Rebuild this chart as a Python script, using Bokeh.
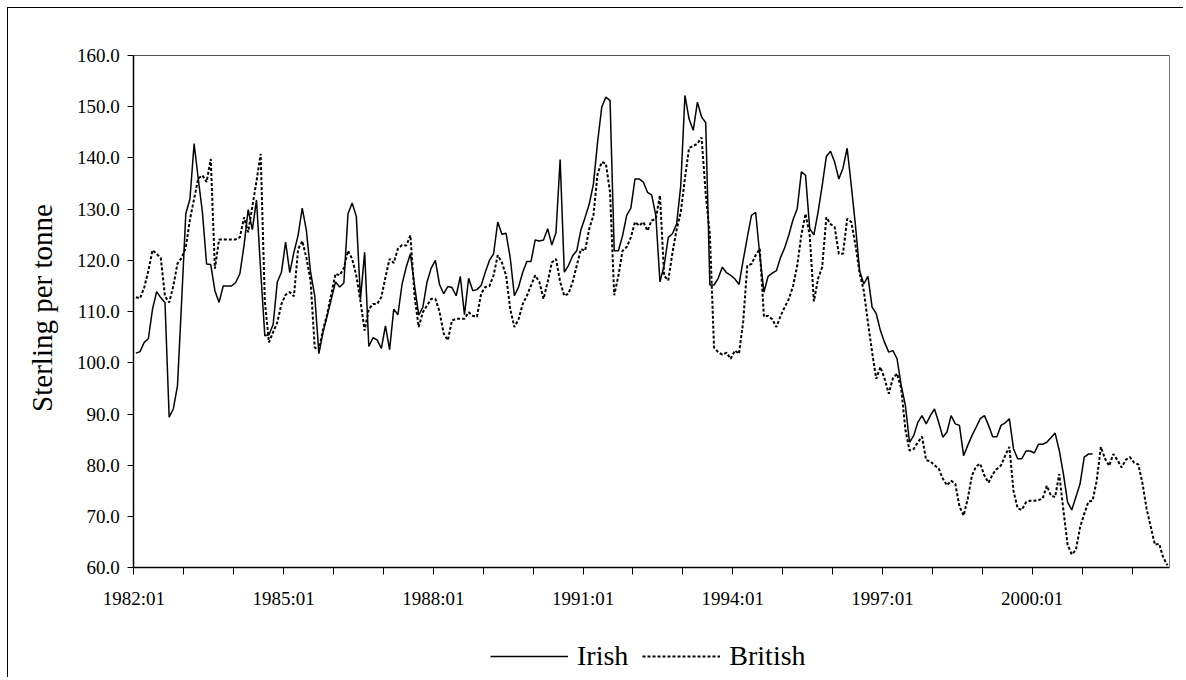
from bokeh.plotting import figure
from bokeh.models import (FixedTicker, NumeralTickFormatter, Legend, LegendItem,
                          Range1d, LinearAxis, Label)
from bokeh.embed import file_html
from bokeh.resources import INLINE

# ---- data (monthly, first month 1982:01) ----
tick_labels = ["1982:01", "1985:01", "1988:01", "1991:01", "1994:01", "1997:01", "2000:01"]
y_ticks = [60, 70, 80, 90, 100, 110, 120, 130, 140, 150, 160]

irish = [
    101.9, 102.2, 104.0, 104.7, 110.5, 113.9, 112.7, 111.8, 89.4, 91.0,
    95.5, 112.0, 129.1, 132.0, 142.8, 135.9, 129.4, 119.3, 119.2, 114.1,
    111.8, 115.0, 115.0, 115.0, 115.7, 117.4, 122.9, 129.9, 126.0, 131.8,
    118.0, 105.3, 105.5, 107.5, 115.8, 117.7, 123.6, 117.6, 121.6, 124.9,
    130.2, 125.8, 117.7, 113.1, 101.8, 106.0, 109.2, 112.5, 115.8, 114.8,
    115.6, 129.1, 131.2, 128.6, 112.5, 121.6, 103.2, 104.9, 104.5, 102.8,
    107.2, 102.6, 110.5, 109.4, 115.4, 118.7, 121.3, 115.1, 109.3, 110.9,
    115.8, 118.5, 120.0, 115.3, 113.5, 114.9, 114.7, 113.1, 116.9, 109.4,
    116.5, 114.1, 114.3, 115.1, 117.7, 120.0, 121.3, 127.5, 125.1, 125.3,
    120.5, 113.1, 114.8, 117.7, 119.8, 119.8, 124.0, 123.8, 124.0, 126.2,
    123.0, 125.4, 139.7, 117.7, 119.0, 120.9, 121.9, 126.0, 128.4, 131.0,
    134.9, 143.1, 149.9, 151.9, 151.2, 121.9, 121.9, 124.8, 128.8, 130.2,
    135.9, 135.9, 135.3, 133.3, 132.8, 128.8, 115.8, 119.0, 124.5, 125.2,
    127.1, 134.6, 152.2, 147.6, 145.4, 150.9, 148.0, 146.9, 115.2, 115.2,
    116.5, 118.7, 117.6, 117.1, 116.4, 115.3, 120.0, 124.5, 128.8, 129.4,
    121.0, 113.8, 116.9, 117.5, 118.0, 120.6, 122.5, 125.0, 128.0, 130.1,
    137.3, 136.6, 126.2, 125.0, 129.4, 134.6, 140.3, 141.3, 139.2, 135.9,
    138.0, 141.9, 134.6, 126.8, 118.0, 115.4, 116.9, 110.9, 109.6, 106.3,
    104.0, 102.1, 102.4, 100.8, 95.6, 91.7, 84.5, 85.8, 88.4, 89.7,
    88.1, 89.7, 91.0, 88.4, 85.5, 86.5, 89.7, 88.1, 87.8, 81.9,
    83.9, 85.8, 87.4, 89.1, 89.7, 87.8, 85.6, 85.6, 87.8, 88.3,
    89.1, 83.2, 81.3, 81.3, 82.8, 82.8, 82.4, 84.1, 84.1, 84.5,
    85.4, 86.3, 82.9, 78.3, 72.8, 71.3, 73.8, 76.4, 81.6, 82.2,
    82.2,
]

british = [
    112.8, 112.6, 114.7, 118.0, 122.0, 121.3, 120.4, 113.0, 111.8, 115.0,
    119.4, 120.5, 122.5, 128.0, 132.0, 136.0, 136.6, 135.3, 139.8, 118.4,
    124.1, 124.1, 124.1, 124.1, 124.1, 124.5, 128.4, 125.5, 130.5, 135.5,
    140.8, 112.0, 104.0, 106.0, 107.9, 111.5, 113.3, 113.8, 113.0, 122.2,
    123.8, 120.5, 116.0, 103.0, 102.5, 106.5, 109.5, 113.5, 117.4, 117.1,
    118.5, 121.9, 120.3, 117.0, 112.0, 106.3, 110.5, 111.5, 111.5, 112.8,
    116.7, 120.3, 119.5, 122.3, 123.0, 122.9, 124.9, 113.0, 107.0, 109.9,
    111.2, 112.5, 112.5, 110.0, 105.7, 104.4, 108.3, 108.6, 108.6, 108.6,
    109.9, 109.2, 109.0, 113.5, 114.8, 115.0, 117.1, 121.0, 119.6, 117.1,
    110.5, 107.0, 108.5, 111.5, 113.1, 115.1, 117.1, 115.8, 112.5, 115.8,
    119.6, 120.3, 115.8, 113.1, 113.5, 115.8, 119.0, 122.2, 121.9, 126.2,
    128.8, 136.9, 139.2, 138.9, 133.3, 113.2, 117.0, 121.9, 122.6, 124.5,
    127.5, 126.8, 127.5, 125.8, 127.8, 128.1, 132.7, 117.0, 116.1, 121.5,
    126.0, 129.4, 136.0, 142.0, 142.3, 142.8, 144.0, 133.0, 125.0, 103.0,
    102.1, 101.6, 102.0, 100.8, 102.4, 101.8, 108.0, 119.0, 119.3, 121.0,
    122.3, 109.0, 109.2, 108.5, 107.0, 109.2, 110.9, 112.5, 115.0, 119.0,
    125.0, 129.1, 124.9, 112.0, 116.4, 118.7, 128.4, 127.1, 126.5, 121.3,
    121.3, 128.1, 127.5, 123.0, 117.5, 114.1, 107.9, 102.1, 96.9, 99.2,
    96.9, 94.0, 97.0, 97.9, 95.0, 87.0, 82.9, 83.2, 84.5, 85.6,
    81.0, 80.8, 80.0, 79.4, 77.4, 76.1, 77.0, 76.4, 72.0, 70.2,
    73.5, 78.0, 79.8, 80.3, 78.0, 76.6, 78.3, 79.3, 80.0, 81.9,
    83.6, 75.0, 71.6, 71.3, 72.8, 73.1, 73.1, 73.2, 73.5, 76.0,
    74.1, 73.8, 78.3, 71.2, 64.5, 62.6, 63.5, 67.9, 70.5, 72.9,
    73.1, 77.0, 83.6, 81.3, 79.9, 82.2, 81.0, 79.6, 81.1, 81.6,
    80.5, 80.2, 76.5, 71.5, 68.0, 64.5, 64.7, 62.0, 60.5,
]

n_months = len(british)
x_irish = [i + 0.5 for i in range(len(irish))]
x_british = [i + 0.5 for i in range(len(british))]
y_min, y_max = y_ticks[0], y_ticks[-1]

FONT = "Liberation Serif"

# ---- layout (page pixels) ----
W, H = 1176, 670              # canvas size
CX0, CY0 = 8, 8               # canvas origin on the page
PL, PR, PT, PB = 133.3, 1169.0, 55.0, 567.3   # plot-area edges
sx = (PR - PL) / n_months
sy = (PB - PT) / (y_max - y_min)
x_lo = 0 - (PL - CX0) / sx
x_hi = n_months + (CX0 + W - PR) / sx
y_hi = y_max + (PT - CY0) / sy
y_lo = y_min - (CY0 + H - PB) / sy

p = figure(width=W, height=H, output_backend="svg", toolbar_location=None,
           x_range=Range1d(x_lo, x_hi), y_range=Range1d(y_lo, y_hi),
           x_axis_location=None, y_axis_location=None,
           min_border_left=0, min_border_right=0, min_border_top=0,
           min_border_bottom=0, background_fill_color="white",
           border_fill_color="white")
p.styles = {"position": "relative", "left": "7px", "top": "7px",
            "border-left": "1px solid #000", "border-top": "1px solid #000"}

r_irish = p.line(x_irish, irish, line_color="black", line_width=1.5)
r_brit = p.line(x_british, british, line_color="black", line_width=2, line_dash="3 2")

p.xgrid.visible = False
p.ygrid.visible = False
p.outline_line_color = None

# x axis drawn at y = 60
xt = list(range(0, n_months, 12))
overrides = {t: "" for t in xt}
for k, lab in enumerate(tick_labels):
    overrides[36 * k] = lab
xaxis = LinearAxis(fixed_location=y_min, bounds=(0, n_months),
                   ticker=FixedTicker(ticks=xt, minor_ticks=[]),
                   major_label_overrides=overrides, major_tick_in=0, major_tick_out=7,
                   major_label_standoff=13)
p.add_layout(xaxis, "below")

yaxis = LinearAxis(fixed_location=0, bounds=(y_min, y_max),
                   ticker=FixedTicker(ticks=y_ticks, minor_ticks=[]),
                   formatter=NumeralTickFormatter(format="0.0"),
                   major_tick_in=0, major_tick_out=6, major_label_standoff=8)
p.add_layout(yaxis, "left")

for ax in (xaxis, yaxis):
    ax.axis_line_color = "black"
    ax.axis_line_width = 1.5
    ax.major_tick_line_color = "black"
    ax.major_tick_line_width = 1
    ax.minor_tick_line_color = None
    ax.major_label_text_font = FONT
    ax.major_label_text_font_size = "19px"
    ax.major_label_text_color = "black"

# plot-area border on the top and right (grey)
top_edge = LinearAxis(fixed_location=y_max, bounds=(0, n_months),
                      ticker=FixedTicker(ticks=[], minor_ticks=[]),
                      axis_line_color="#505050", axis_line_width=1,
                      major_tick_line_color=None, minor_tick_line_color=None,
                      major_label_text_font_size="0px")
p.add_layout(top_edge, "above")
right_edge = LinearAxis(fixed_location=n_months, bounds=(y_min, y_max),
                        ticker=FixedTicker(ticks=[], minor_ticks=[]),
                        axis_line_color="#707070", axis_line_width=1,
                        major_tick_line_color=None, minor_tick_line_color=None,
                        major_label_text_font_size="0px")
p.add_layout(right_edge, "right")

# y axis title
ylab_x = 0 - (PL - 41.0) / sx
ylab_y = y_min + (PB - 307.5) / sy
p.add_layout(Label(x=ylab_x, y=ylab_y, text="Sterling per tonne", angle=90,
                   angle_units="deg", text_align="center", text_baseline="middle",
                   text_font=FONT, text_font_size="29px", text_color="black"))

legend = Legend(items=[LegendItem(label="Irish", renderers=[r_irish]),
                       LegendItem(label="British", renderers=[r_brit])],
                orientation="horizontal", location=(490 - CX0, 6),
                label_text_font=FONT, label_text_font_size="28px",
                label_text_color="black",
                glyph_width=78, glyph_height=30, label_height=30,
                label_standoff=9, spacing=14, padding=0, margin=0,
                border_line_color=None, background_fill_alpha=0)
p.add_layout(legend, "center")

open("out.html", "w").write(file_html(p, INLINE))
